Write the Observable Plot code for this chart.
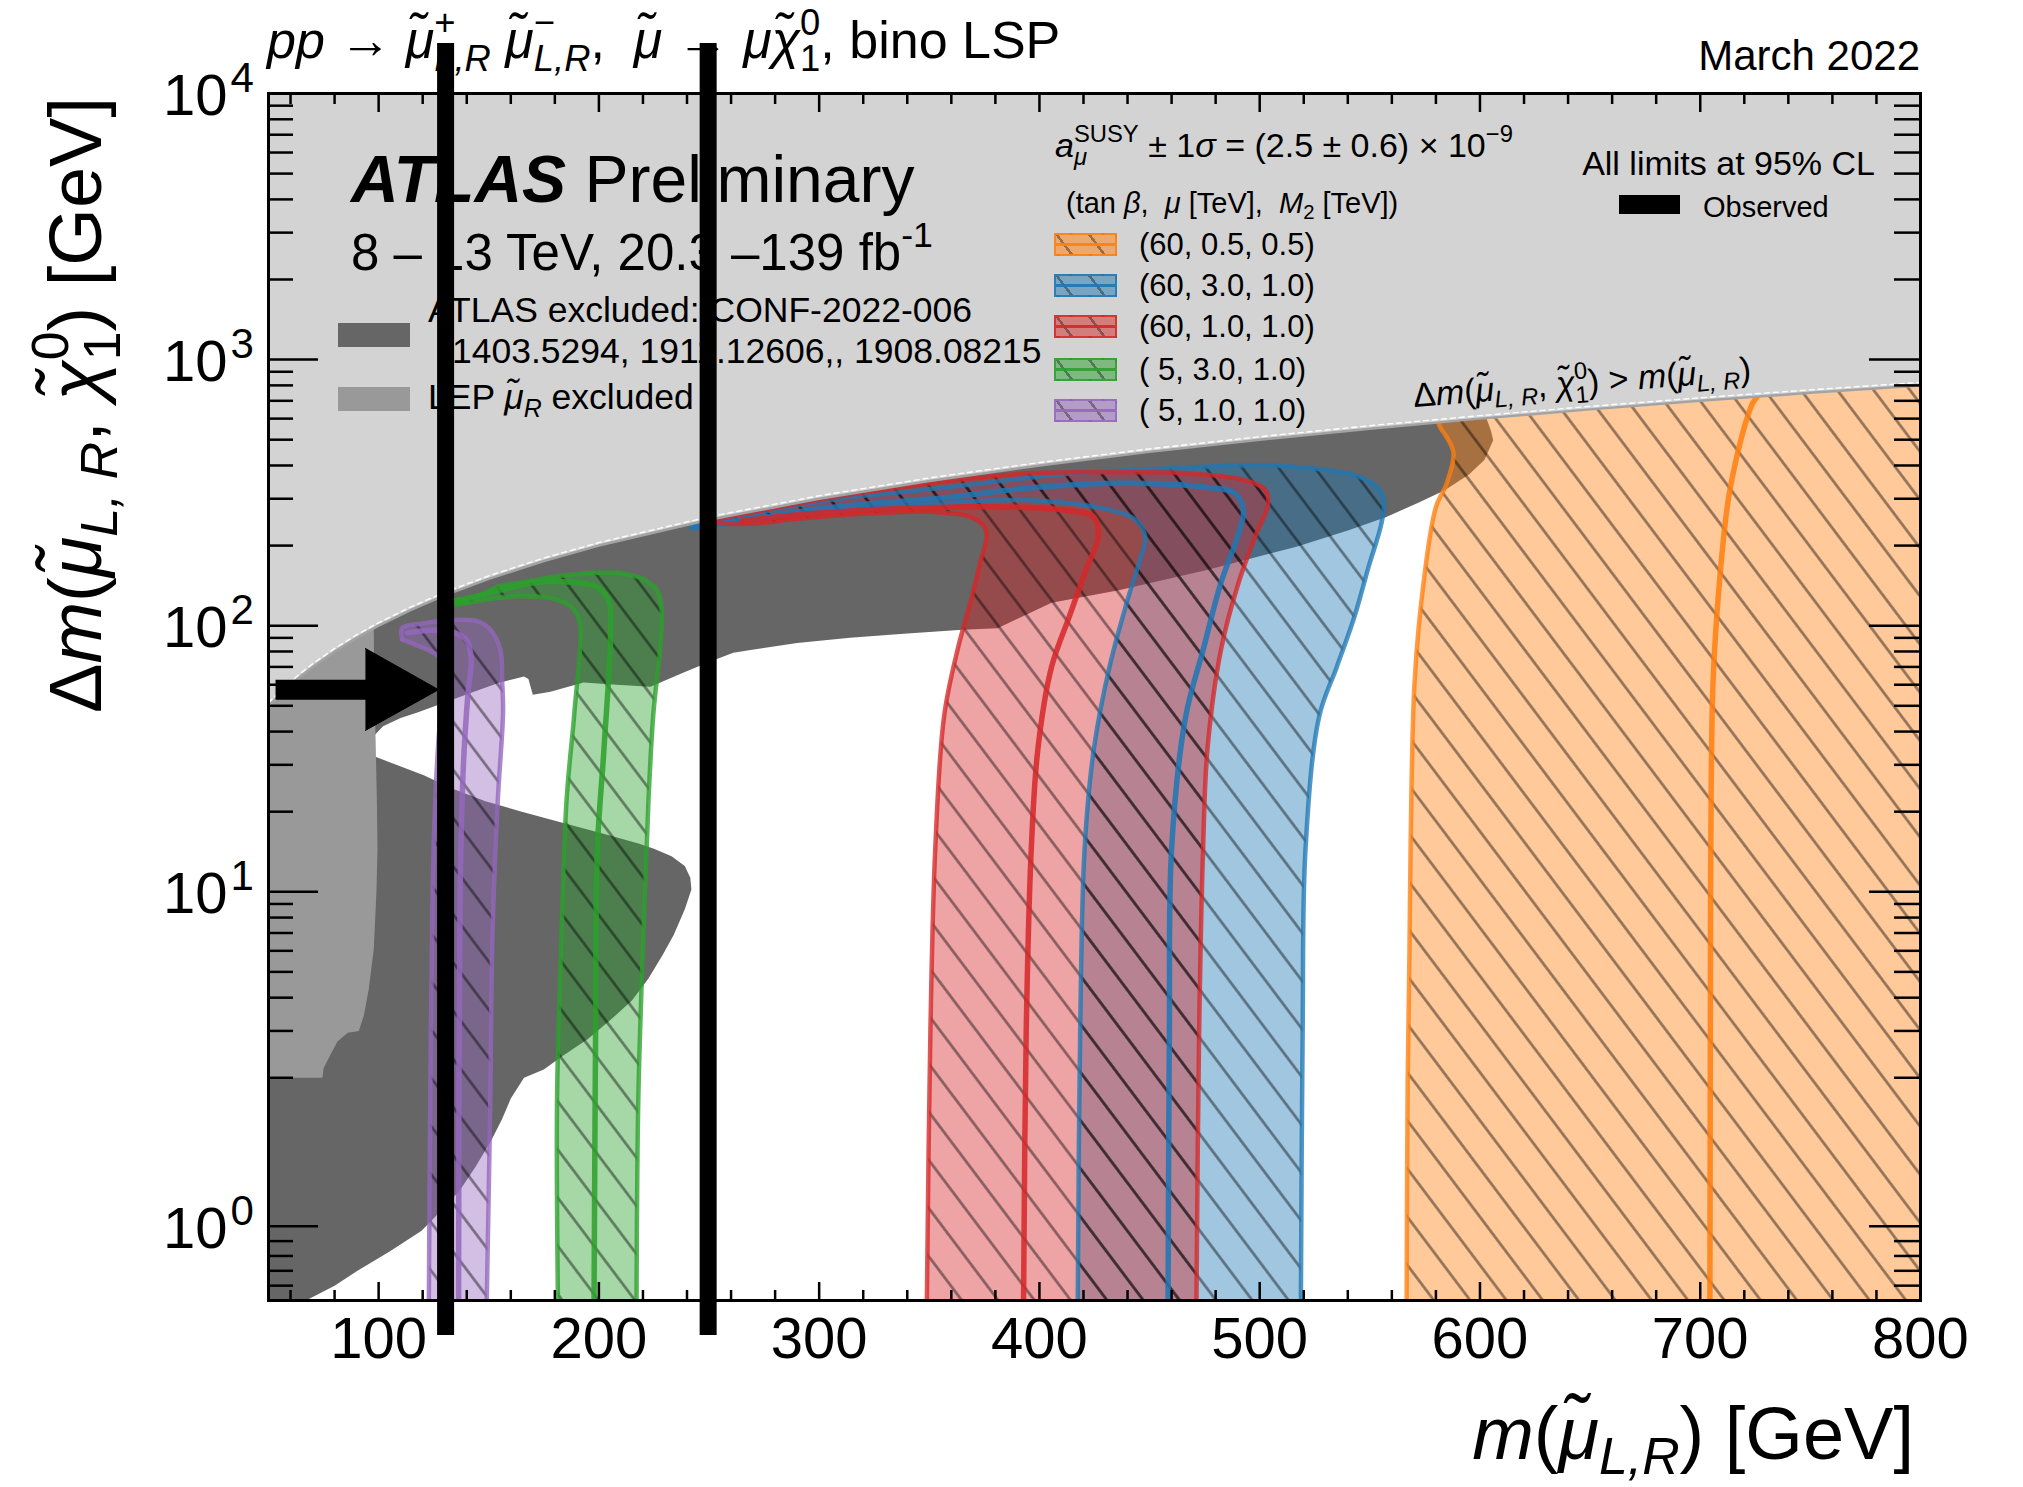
<!DOCTYPE html>
<html><head><meta charset="utf-8">
<script src="https://cdn.jsdelivr.net/npm/d3@7"></script>
<script src="https://cdn.jsdelivr.net/npm/@observablehq/plot@0.6"></script>
<style>
html,body{margin:0;padding:0;background:#fff;}
#fig{position:relative;width:2023px;height:1487px;overflow:hidden;font-family:"Liberation Sans",Arial,sans-serif;background:#fff;}
#fig > svg{position:absolute;left:0;top:0;}
.t{position:absolute;white-space:pre;line-height:1.2;color:#000;}
.ss{display:inline-grid;line-height:0;font-size:0.7em;}
.ss>span{grid-area:1/1;position:relative;}
.ss>.u{top:-0.64em;}
.ss>.d{top:0.36em;}
.sp{font-size:0.7em;position:relative;top:-0.64em;line-height:0;}
.sb{font-size:0.7em;position:relative;top:0.3em;line-height:0;}
</style></head>
<body><div id="fig"></div>
<script>
// ---------------- data (x = m(smuon) [GeV], y = Δm [GeV]) ----------------
const xMajor = [100, 200, 300, 400, 500, 600, 700, 800];
const xMinor = d3.range(60, 800, 20).filter(v => v % 100 !== 0);
const yMajor = [1, 10, 100, 1000, 10000];
const yMinor = [0.6, 0.7, 0.8, 0.9, 2, 3, 4, 5, 6, 7, 8, 9, 20, 30, 40, 50, 60, 70, 80, 90,
  200, 300, 400, 500, 600, 700, 800, 900, 2000, 3000, 4000, 5000, 6000, 7000, 8000, 9000];

// kinematic edge Δm = m
const edgeX = [50, 55, 60, 65, 70, 80, 90, 100, 115, 130, 150, 175, 200, 250, 300, 350, 400, 450, 500, 550, 600, 650, 700, 750, 800];

// ATLAS observed exclusion (two pieces) and LEP
const atlasLow = [[50,0.5],[67,0.5],[80,0.6],[90.4,0.7],[105,0.83],[119.5,0.97],[128,1.1],[136.8,1.24],[144,1.4],[151,1.575],[156,1.72],[160,1.86],[166,2.0],[175,2.15],[183,2.4],[195,2.8],[206,3.34],[215,3.9],[222.5,4.72],[229,5.8],[234,6.9],[239,8.6],[242,10.2],[241.5,11.3],[239,12.5],[233,13.6],[225,14.5],[218,15.2],[200,16.7],[183,18.2],[165,20],[148.5,21.9],[133,24.5],[120.5,27.4],[108,30],[98,32.3],[50,32.3]];
const atlasHigh = [[50,38],[97.7,38.4],[102,41.9],[110,45],[117.6,47.2],[130,51.5],[142,56],[155,61.1],[166,64.4],[168,63],[170,55],[178,56.5],[193,61.1],[208,60],[223.4,58.9],[238.5,66.7],[250,73],[261,79.2],[268.8,81],[290,86],[314,90],[340,93.5],[365,96.6],[381,97.8],[392,108],[405.5,122],[436,136],[476,162],[516.7,198],[540,228],[557.5,256],[572,290],[584,323],[595,370],[602,419],[606,498],[605,540],[603,600],[600,900],[50,900]];
const lepExcl = [[50,2],[74.5,2],[75,2.17],[78,2.43],[81.3,2.74],[86,2.95],[91,3.0],[93.3,3.43],[95.5,4.3],[97.8,6.1],[99,10],[99.5,14.5],[99.2,22],[98.6,38],[98,60],[97.7,120],[50,120]];

// g-2 bands: (tanβ, μ [TeV], M2 [TeV])
const bandLabels = ["(60, 0.5, 0.5)", "(60, 3.0, 1.0)", "(60, 1.0, 1.0)", "( 5, 3.0, 1.0)", "( 5, 1.0, 1.0)"];
const bandColors = ["#ff7f0e", "#1f77b4", "#d62728", "#2ca02c", "#9467bd"];

const orangeOuter = [[830,0.5],[830,3000]];
const orangeInner = [[566.7,0.5],[567.2,2],[568,6],[568.5,14.5],[570.3,61],[574.4,145],[580,279],[585,344],[588,445],[585,510],[582,556],[580,620]];
const orangeCenter = [[704.4,0.5],[704.6,3],[704.8,14.5],[705.8,61],[708.7,145],[712.7,296],[717.3,457],[721.4,607],[724,690],[728,760]];

const blueOuter = [[518.7,0.5],[519.5,3],[520.8,14.5],[527,45.6],[535,70],[543,108],[549.4,166],[555.3,243],[556.4,296],[553.5,331],[543,368],[516.7,395],[496.7,401],[456,389],[415.5,374],[375,344],[334,315],[314,304],[290,283],[265,258],[242,236]];
const blueInner = [[417.4,0.5],[418.5,3],[420.5,14.5],[424.7,34.4],[431.8,70],[440,125],[446,181],[448,215],[444,249],[431.8,272],[395,296],[354.6,288],[314,272],[290,262],[265,245],[242,232]];
const blueCenter = [[458.4,0.5],[459,3],[460,14.5],[466.4,45.6],[474.3,81],[482.4,145],[490.5,223],[492.6,272],[488.6,315],[476,331],[436,343],[395,329],[354.6,301],[324,288],[300,275],[270,252],[245,236]];

const redOuter = [[471.3,0.5],[472.5,3],[474.3,14.5],[476.3,34.4],[482.4,81],[490.4,145],[498.6,223],[503.6,280],[502.7,323],[492.6,353],[466.4,374],[436,377],[395,374],[354.6,347],[330,325],[314,311],[290,287],[270,267],[252,249]];
const redInner = [[348.9,0.5],[350.5,3],[352.7,14.5],[356.7,45.6],[362.8,81],[369,125],[373,172],[376,215],[375,235],[369,256],[350.6,268],[330,266],[314,262],[290,252],[270,242],[252,242]];
const redCenter = [[392.8,0.5],[394,3],[396.3,14.5],[399.3,34.4],[405.5,70],[413.5,108],[421.6,166],[426.7,215],[424.6,256],[411.3,272],[375,280],[334.5,275],[314,270],[290,261],[265,248]];

const greenOuter = [[217.1,0.5],[217.9,1.86],[220.2,6.9],[222.5,22],[224.8,47.5],[228,84.5],[228.6,110],[228,125],[226.4,136],[220,150],[214.3,155],[208.3,158],[185.6,155],[167.4,146.6],[153.8,140],[147.7,132],[137.2,125],[131,124]];
const greenInner = [[181.4,0.5],[181,1.86],[183,6.9],[185.3,22],[188.9,47.5],[191.6,99.3],[190,110],[187.1,118],[178,127],[162.9,129],[147.7,125],[135.7,120],[131,120]];
const greenCenter = [[197.8,0.5],[198.5,3],[199.3,14.5],[202.3,34.4],[205.3,94],[204.4,125],[199,140],[185.6,146],[170.4,145],[155.3,136],[143,128],[132,123]];

const purpleOuter = [[149.1,0.5],[150.7,1.86],[151.7,6.9],[154.1,22],[156.5,47.5],[156.1,61],[155.3,81],[150.8,96.6],[144.7,104],[132.6,105],[120.5,102],[110.7,98],[110.7,88.7]];
const purpleInner = [[122.8,0.5],[123.5,2],[124.5,10],[126,25],[128,45],[130,60],[131,70],[126,78],[118,84],[110.7,88.7]];
const purpleCenter = [[136.3,0.5],[137,10],[138.5,30],[140.5,55],[142,75],[140,88],[133,95],[122,96],[113,94]];

// overlaid annotation (black markers)
const markerX = [130.4, 249.6];
const markerSpan = [0.265, 15400];
const arrowShaft = [[53.2,57.5],[96,57.5]];
const arrowHead = [[94,82.1],[127.2,57.5],[94,40.4]];

// ---------------- build ----------------
const W = 2023, H = 1487;
const M = {marginLeft: 268, marginRight: 103, marginTop: 93, marginBottom: 187};
const LOG2 = Math.log10(2), LIN = 0.558;
const T = v => v >= 2 ? Math.log10(v) : LOG2 - (2 - v) * LIN;
const xScale = {domain: [50, 800], label: null};
const yScale = {type: "linear", transform: T, domain: [T(0.5), T(1e4)], label: null};
const pts = a => a.map(([x, y]) => ({x, y}));
const rgba = (hex, a) => { const c = d3.rgb(hex); return `rgba(${c.r},${c.g},${c.b},${a})`; };

const bands = [
  {outer: orangeOuter, inner: orangeInner, center: orangeCenter},
  {outer: blueOuter, inner: blueInner, center: blueCenter},
  {outer: redOuter, inner: redInner, center: redCenter},
  {outer: greenOuter, inner: greenInner, center: greenCenter},
  {outer: purpleOuter, inner: purpleInner, center: purpleCenter}
].map((b, i) => ({...b, color: bandColors[i], label: bandLabels[i], poly: [...b.outer, ...b.inner.slice().reverse()]}));

const C = "catmull-rom";
const fillMarks = [], hatchMarks = [], lineMarks = [];
for (const b of bands) {
  fillMarks.push(Plot.line(pts(b.poly), {x: "x", y: "y", curve: C, fill: b.color, fillOpacity: 0.42, stroke: "none", clip: true}));
  hatchMarks.push(Plot.line(pts(b.poly), {x: "x", y: "y", curve: C, fill: "url(#hatch)", stroke: "none", clip: true}));
  for (const e of [b.outer, b.inner]) lineMarks.push(Plot.line(pts(e), {x: "x", y: "y", curve: C, stroke: b.color, strokeWidth: 4.5, strokeOpacity: 0.78, clip: true}));
  lineMarks.push(Plot.line(pts(b.center), {x: "x", y: "y", curve: C, stroke: b.color, strokeWidth: 5.5, strokeOpacity: 0.85, clip: true}));
}

const noText = () => "";
const base = Plot.plot({
  width: W, height: H, ...M,
  x: xScale, y: yScale,
  style: {fontFamily: "Liberation Sans, Arial, sans-serif", fontSize: "20px", background: "white", color: "black"},
  marks: [
    Plot.line(pts(atlasLow), {x: "x", y: "y", fill: "#666666", stroke: "none", clip: true}),
    Plot.line(pts(atlasHigh), {x: "x", y: "y", fill: "#666666", stroke: "none", clip: true}),
    Plot.line(pts(lepExcl), {x: "x", y: "y", fill: "#999999", stroke: "none", clip: true}),
    ...fillMarks, ...hatchMarks, ...lineMarks,
    Plot.areaY(edgeX, {x: d => d, y1: d => d, y2: 1e4, fill: "#d3d3d3", clip: true}),
    Plot.line(edgeX, {x: d => d, y: d => d, stroke: "#a3a3a3", strokeWidth: 2.5, clip: true}),
    Plot.line(edgeX, {x: d => d, y: d => d, stroke: "white", strokeWidth: 1.4, strokeDasharray: "5,4", dy: -3, clip: true}),
    Plot.frame({stroke: "black", strokeWidth: 3}),
    Plot.axisX(xMajor, {anchor: "bottom", tickSize: -18, tickFormat: noText, strokeWidth: 2.5, label: null}),
    Plot.axisX(xMinor, {anchor: "bottom", tickSize: -10, tickFormat: noText, strokeWidth: 2.5, label: null}),
    Plot.axisX(xMajor, {anchor: "top", tickSize: -18, tickFormat: noText, strokeWidth: 2.5, label: null}),
    Plot.axisX(xMinor, {anchor: "top", tickSize: -10, tickFormat: noText, strokeWidth: 2.5, label: null}),
    Plot.axisY(yMajor, {anchor: "left", tickSize: -50, tickFormat: noText, strokeWidth: 2.5, label: null}),
    Plot.axisY(yMinor, {anchor: "left", tickSize: -25, tickFormat: noText, strokeWidth: 2.5, label: null}),
    Plot.axisY(yMajor, {anchor: "right", tickSize: -52, tickFormat: noText, strokeWidth: 2.5, label: null}),
    Plot.axisY(yMinor, {anchor: "right", tickSize: -27, tickFormat: noText, strokeWidth: 2.5, label: null}),
    Plot.text(xMajor, {x: d => d, frameAnchor: "bottom", lineAnchor: "top", dy: 16, text: d => String(d), fontSize: 58}),
    Plot.text(yMajor, {y: d => d, frameAnchor: "left", textAnchor: "end", dx: -41, dy: 3, text: () => "10", fontSize: 58}),
    Plot.text(yMajor, {y: d => d, frameAnchor: "left", textAnchor: "start", dx: -38, dy: -15, text: d => String(Math.round(Math.log10(d))), fontSize: 42})
  ]
});

// hatch pattern
const defs = d3.select(base).insert("defs", ":first-child");
const pat = defs.append("pattern").attr("id", "hatch").attr("patternUnits", "userSpaceOnUse")
  .attr("width", 29).attr("height", 29).attr("patternTransform", "rotate(-37)");
pat.append("line").attr("x1", 14.5).attr("y1", -5).attr("x2", 14.5).attr("y2", 34)
  .attr("stroke", "rgba(0,0,0,0.45)").attr("stroke-width", 2.6);

const fig = document.getElementById("fig");
fig.appendChild(base);

// ---------------- text overlay ----------------
const ov = document.createElement("div");
ov.style.cssText = "position:absolute;left:0;top:0;width:2023px;height:1487px;";
fig.appendChild(ov);
const ss = (u, d) => `<span class="ss"><span class="u">${u}</span><span class="d">${d}</span></span>`;
const MU = "\u03BC\u0303", CHI = "\u03C7\u0303";
function addText(html, {left, right, baseline, size, css = ""}) {
  const d = document.createElement("div");
  d.className = "t";
  let s = `font-size:${size}px;top:${baseline - 0.9465 * size}px;`;
  if (left != null) s += `left:${left}px;`;
  if (right != null) s += `right:${W - right}px;`;
  d.style.cssText = s + css;
  d.innerHTML = html;
  ov.appendChild(d);
  return d;
}
function addBox(left, top, w, h, css) {
  const d = document.createElement("div");
  d.style.cssText = `position:absolute;left:${left}px;top:${top}px;width:${w}px;height:${h}px;box-sizing:border-box;` + css;
  ov.appendChild(d);
  return d;
}

addText(`<i>pp</i> \u2192 <i>${MU}</i>${ss("+", "<i>L,R</i>")} <i>${MU}</i>${ss("\u2212", "<i>L,R</i>")},  <i>${MU}</i> \u2192 <i>\u03BC${CHI}</i>${ss("0", "1")}, bino LSP`, {left: 267, baseline: 58, size: 52});
addText("March 2022", {right: 1920, baseline: 71, size: 42});
addText(`<b><i>ATLAS</i></b> Preliminary`, {left: 351, baseline: 202, size: 66});
addText(`8 \u2013 13 TeV, 20.3 \u2013139 fb<span class="sp">-1</span>`, {left: 351, baseline: 270, size: 51});
addBox(338, 323, 72, 24, "background:#666666;");
addBox(338, 387, 72, 24, "background:#999999;");
addText("ATLAS excluded: CONF-2022-006", {left: 428, baseline: 323, size: 35.5});
addText("1403.5294, 1911.12606,, 1908.08215", {left: 452, baseline: 364, size: 35.5});
addText(`LEP <i>${MU}</i><span class="sb"><i>R</i></span> excluded`, {left: 428, baseline: 410, size: 35.5});

addText(`<i>a</i>${ss("SUSY", "<i>\u03BC</i>")} \u00B1 1<i>\u03C3</i> = (2.5 \u00B1 0.6) \u00D7 10<span class="sp">\u22129</span>`, {left: 1055, baseline: 157, size: 34});
addText(`(tan <i>\u03B2</i>,  <i>\u03BC</i> [TeV],  <i>M</i><span class="sb">2</span> [TeV])`, {left: 1066, baseline: 213, size: 29});
const rowY = [244, 285, 326, 369, 410];
bands.forEach((b, i) => {
  const box = addBox(1054, rowY[i] - 11.5, 63, 23,
    `border:2.5px solid ${rgba(b.color, 0.85)};background:repeating-linear-gradient(53deg, transparent 0 11px, rgba(0,0,0,0.35) 11px 13.5px, transparent 13.5px 26px), ${rgba(b.color, 0.5)};`);
  const ln = document.createElement("div");
  ln.style.cssText = `position:absolute;left:0;right:0;top:50%;height:3px;margin-top:-1.5px;background:${rgba(b.color, 0.9)};`;
  box.appendChild(ln);
  addText(b.label, {left: 1139, baseline: rowY[i] + 11, size: 31});
});
addText("All limits at 95% CL", {right: 1875, baseline: 175, size: 34});
addBox(1619, 195, 61, 19, "background:#000;");
addText("Observed", {left: 1703, baseline: 217, size: 29});

addText(`\u0394<i>m</i>(<i>${MU}</i><span class="sb"><i>L, R</i></span>, <i>${CHI}</i>${ss("0", "1")}) &gt; <i>m</i>(<i>${MU}</i><span class="sb"><i>L, R</i></span>)`,
  {left: 1414, baseline: 407, size: 34, css: `transform-origin:0 ${0.9465 * 34}px;transform:rotate(-4.5deg);`});

// axis titles
addText(`<i>m</i>(<i>${MU}</i><span class="sb"><i>L,R</i></span>) [GeV]`, {right: 1914, baseline: 1460, size: 74});
{
  const d = document.createElement("div");
  d.className = "t";
  d.style.cssText = `font-size:74px;left:32px;top:1097px;width:1000px;text-align:right;transform-origin:0 0;transform:rotate(-90deg);`;
  d.innerHTML = `\u0394<i>m</i>(<i>${MU}</i><span class="sb"><i>L, R</i></span>, <i>${CHI}</i>${ss("0", "1")}) [GeV]`;
  ov.appendChild(d);
}

// ---------------- annotation layer (on top) ----------------
const topLayer = Plot.plot({
  width: W, height: H, ...M,
  x: {...xScale, axis: null}, y: {...yScale, axis: null},
  style: {background: "transparent", overflow: "visible"},
  marks: [
    Plot.ruleX(markerX, {x: d => d, y1: markerSpan[0], y2: markerSpan[1], stroke: "black", strokeWidth: 17}),
    Plot.line(pts(arrowShaft), {x: "x", y: "y", stroke: "black", strokeWidth: 20, strokeLinecap: "butt"}),
    Plot.line(pts(arrowHead), {x: "x", y: "y", fill: "black", stroke: "black", strokeWidth: 1})
  ]
});
fig.appendChild(topLayer);
</script>
</body></html>
